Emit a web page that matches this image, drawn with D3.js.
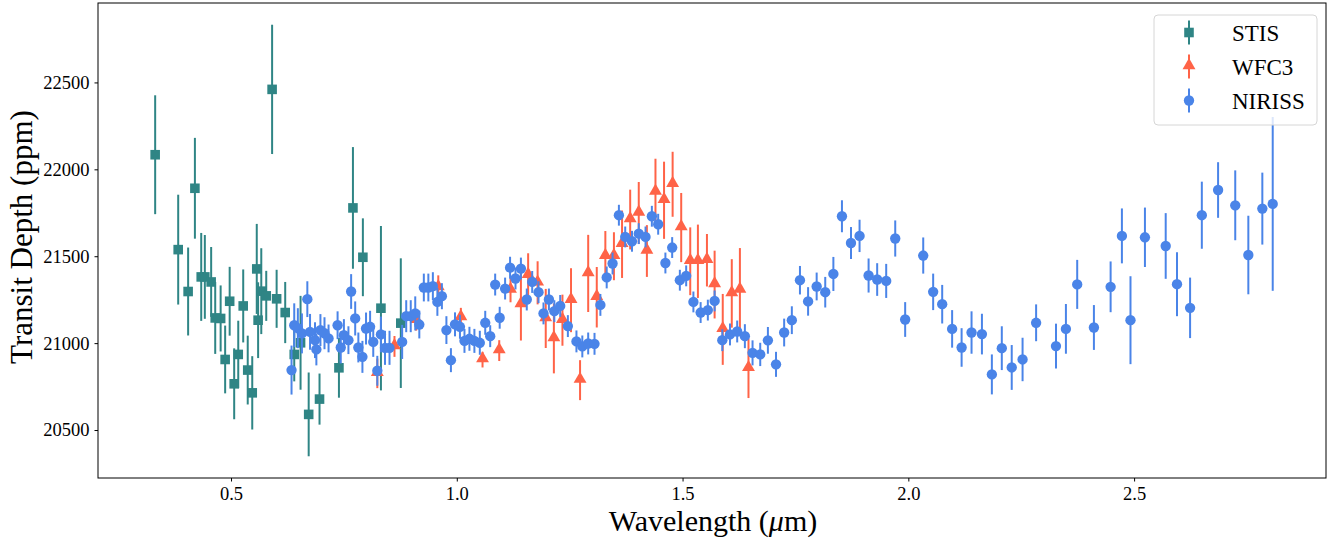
<!DOCTYPE html>
<html>
<head>
<meta charset="utf-8">
<script src="https://cdn.jsdelivr.net/npm/d3@7"></script>
<style>
  body { margin: 0; background: #fff; }
  svg text { font-family: "Liberation Serif", "DejaVu Serif", serif; fill: #000; }
</style>
</head>
<body>
<div id="plot"></div>
<script>
// values
var stisWave = [0.332, 0.383, 0.405, 0.420, 0.434, 0.442, 0.456, 0.465, 0.477, 0.487, 0.497, 0.507, 0.516, 0.527, 0.537, 0.547, 0.557, 0.560, 0.567, 0.578, 0.591, 0.601, 0.620, 0.640, 0.654, 0.672, 0.696, 0.739, 0.770, 0.792, 0.832, 0.876];
var stisDepth = [22084, 21538, 21297, 21891, 21381, 21381, 21352, 21145, 21142, 20906, 21241, 20766, 20935, 21214, 20845, 20714, 21427, 21132, 21299, 21272, 22460, 21255, 21176, 20935, 21002, 20590, 20678, 20858, 21778, 21494, 21201, 21115];
var stisErr = [342, 316, 253, 290, 253, 241, 201, 207, 190, 195, 198, 204, 194, 210, 198, 211, 259, 218, 247, 144, 372, 167, 176, 155, 270, 241, 147, 172, 350, 224, 473, 373];

var wfc3Wave = [0.824, 0.862, 0.910, 0.959, 1.009, 1.057, 1.094, 1.119, 1.142, 1.158, 1.179, 1.197, 1.215, 1.234, 1.253, 1.273, 1.291, 1.310, 1.329, 1.348, 1.366, 1.384, 1.403, 1.421, 1.440, 1.459, 1.478, 1.497, 1.517, 1.534, 1.554, 1.571, 1.589, 1.609, 1.627, 1.646];
var wfc3Depth = [20826, 20981, 21132, 21320, 21148, 20905, 20957, 21305, 21222, 21391, 21347, 21142, 21027, 21132, 21247, 20787, 21401, 21264, 21500, 21500, 21569, 21711, 21749, 21530, 21870, 21822, 21914, 21665, 21471, 21471, 21477, 21337, 21079, 21286, 21306, 20855];
var wfc3Err = [85, 60, 60, 70, 55, 45, 60, 70, 207, 126, 124, 170, 201, 147, 184, 115, 222, 174, 145, 138, 194, 172, 178, 149, 191, 222, 187, 199, 195, 211, 151, 195, 204, 197, 241, 171];

var nirissWave = [0.634, 0.640, 0.648, 0.657, 0.669, 0.675, 0.686, 0.689, 0.698, 0.707,
  0.716, 0.736, 0.743, 0.750, 0.760, 0.766, 0.775, 0.782, 0.791, 0.799,
  0.808, 0.815, 0.824, 0.832, 0.841, 0.851,
  0.879, 0.888, 0.898, 0.908, 0.917, 0.927, 0.937, 0.947, 0.957, 0.967,
  0.977, 0.987, 0.996, 1.007, 1.017, 1.028, 1.039, 1.051, 1.063, 1.074,
  1.085, 1.095, 1.107, 1.118, 1.130, 1.142,
  1.155, 1.167, 1.181, 1.192, 1.204, 1.216, 1.229, 1.246, 1.265, 1.278,
  1.291, 1.305, 1.318, 1.332, 1.345, 1.359, 1.373, 1.388, 1.403, 1.418,
  1.432, 1.446, 1.462, 1.477, 1.494, 1.508,
  1.524, 1.540, 1.556, 1.571, 1.588, 1.605, 1.621, 1.638, 1.655, 1.672,
  1.689, 1.707, 1.725, 1.742, 1.760, 1.778, 1.797, 1.816, 1.834, 1.853,
  1.873, 1.892, 1.912, 1.931, 1.951, 1.971,
  1.993, 2.033, 2.055, 2.075, 2.097, 2.118, 2.140, 2.163, 2.185, 2.207,
  2.229, 2.253, 2.283, 2.327, 2.349, 2.374, 2.411, 2.448, 2.473, 2.492,
  2.524, 2.570, 2.595, 2.624, 2.650, 2.686, 2.724, 2.753, 2.784, 2.807];
var nirissDepth = [20845, 21103, 21086, 21056, 21253, 21065, 21017, 20964, 21075, 21057,
  21027, 21103, 20975, 21046, 21017, 21297, 21142, 20975, 20921, 21084,
  21094, 21007, 20841, 21050, 20973, 20973,
  21007, 21155, 21155, 21171, 21107, 21320, 21320, 21328, 21237, 21270,
  21075, 20902, 21108, 21094, 21013, 21025, 21013, 21002, 21117, 21040,
  21337, 21146, 21314, 21434, 21372, 21429,
  21251, 21352, 21293, 21171, 21251, 21184, 21214, 21098, 21010, 20981,
  20998, 20996, 21220, 21378, 21458, 21736, 21611, 21586, 21630, 21611,
  21730, 21684, 21461, 21550, 21362, 21387,
  21237, 21176, 21190, 21243, 21017, 21050, 21067, 21040, 20944, 20935,
  21016, 20878, 21061, 21132, 21362, 21240, 21326, 21293, 21398, 21730,
  21576, 21617, 21389, 21366, 21358, 21602,
  21136, 21504, 21295, 21224, 21082, 20975, 21061, 21052, 20820, 20971,
  20860, 20906, 21117, 20983, 21082, 21338, 21090, 21324, 21617, 21132,
  21609, 21559, 21339, 21203, 21736, 21881, 21793, 21507, 21774, 21801];
var nirissErr = [141, 126, 115, 115, 103, 103, 103, 92, 92, 92,
  80, 80, 92, 92, 80, 100, 98, 86, 92, 92,
  92, 86, 86, 103, 98, 98,
  98, 92, 92, 98, 80, 80, 80, 80, 80, 75,
  80, 69, 69, 69, 69, 69, 69, 69, 69, 63,
  63, 63, 63, 63, 63, 63,
  63, 63, 63, 63, 63, 63, 63, 63, 63, 63,
  63, 63, 63, 63, 63, 60, 60, 60, 60, 60,
  60, 60, 60, 60, 60, 60,
  60, 60, 60, 60, 63, 63, 63, 69, 72, 67,
  77, 72, 80, 80, 82, 82, 80, 88, 98, 92,
  92, 93, 98, 94, 98, 104,
  100, 104, 105, 111, 108, 111, 122, 117, 115, 126,
  129, 125, 106, 129, 143, 141, 129, 146, 158, 253,
  171, 189, 184, 174, 193, 160, 201, 226, 207, 500];

var xTicks = [0.5, 1.0, 1.5, 2.0, 2.5];
var yTicks = [20500, 21000, 21500, 22000, 22500];
var seriesNames = ["STIS", "WFC3", "NIRISS"];

// set the dimensions and margins of the graph
var margin = {top: 3, right: 10, bottom: 63, left: 98},
    width = 1336 - margin.left - margin.right,
    height = 541 - margin.top - margin.bottom;

var svg = d3.select("#plot")
  .append("svg")
  .attr("width", 1336)
  .attr("height", 541)
  .append("g")
  .attr("transform", "translate(" + margin.left + "," + margin.top + ")");

var x = d3.scaleLinear().domain([0.2054, 2.925]).range([0, width]);
var y = d3.scaleLinear().domain([20224, 22957]).range([height, 0]);

var colors = {STIS: "#2f8585", WFC3: "#ff6347", NIRISS: "#4a84e8"};

// ---- axes ----
var xAxis = svg.append("g")
  .attr("transform", "translate(0," + height + ")")
  .call(d3.axisBottom(x).tickValues(xTicks).tickFormat(d3.format(".1f")).tickSize(3.5).tickSizeOuter(0).tickPadding(5));
var yAxis = svg.append("g")
  .call(d3.axisLeft(y).tickValues(yTicks).tickFormat(d3.format("d")).tickSize(3.5).tickSizeOuter(0).tickPadding(5));
[xAxis, yAxis].forEach(function(a) {
  a.select(".domain").remove();
  a.selectAll("line").attr("stroke", "#000").attr("stroke-width", 1);
  a.selectAll("text").style("font-size", "18.5px").style("font-family", "'Liberation Serif', serif");
});

// ---- series ----
function makeRows(w, d, e) {
  return w.map(function(v, i) { return {w: v, d: d[i], e: e[i]}; });
}

var sym = {
  STIS: d3.symbol().type(d3.symbolSquare).size(92),
  WFC3: d3.symbol().type(d3.symbolTriangle).size(72),
  NIRISS: d3.symbol().type(d3.symbolCircle).size(84)
};

function drawSeries(name, rows) {
  var g = svg.append("g");
  g.selectAll("line.err")
    .data(rows)
    .enter()
    .append("line")
    .attr("x1", function(d) { return x(d.w); })
    .attr("x2", function(d) { return x(d.w); })
    .attr("y1", function(d) { return y(d.d - d.e); })
    .attr("y2", function(d) { return y(d.d + d.e); })
    .attr("stroke", colors[name])
    .attr("stroke-width", 2);
  g.selectAll("path.mark")
    .data(rows)
    .enter()
    .append("path")
    .attr("d", sym[name])
    .attr("transform", function(d) { return "translate(" + x(d.w) + "," + (y(d.d) + (name == "WFC3" ? -1 : 0)) + ")"; })
    .attr("fill", colors[name]);
}

drawSeries("STIS", makeRows(stisWave, stisDepth, stisErr));
drawSeries("WFC3", makeRows(wfc3Wave, wfc3Depth, wfc3Err));
drawSeries("NIRISS", makeRows(nirissWave, nirissDepth, nirissErr));

// ---- frame ----
svg.append("rect")
  .attr("x", 0).attr("y", 0)
  .attr("width", width).attr("height", height)
  .attr("fill", "none")
  .attr("stroke", "#000")
  .attr("stroke-width", 1);

// ---- axis labels ----
var xl = svg.append("text")
  .attr("x", 713 - margin.left)
  .attr("y", 531 - margin.top)
  .attr("text-anchor", "middle")
  .style("font-size", "30px");
xl.append("tspan").text("Wavelength (");
xl.append("tspan").style("font-style", "italic").text("μ");
xl.append("tspan").text("m)");

svg.append("text")
  .attr("transform", "translate(" + (32 - margin.left) + "," + (237 - margin.top) + ") rotate(-90)")
  .attr("text-anchor", "middle")
  .style("font-size", "31px")
  .text("Transit Depth (ppm)");

// ---- legend ----
var lg = svg.append("g").attr("transform", "translate(" + (1154 - margin.left) + "," + (15 - margin.top) + ")");
lg.append("rect")
  .attr("width", 163).attr("height", 110)
  .attr("rx", 4)
  .attr("fill", "#fff").attr("fill-opacity", 0.8)
  .attr("stroke", "#d6d6d6").attr("stroke-width", 1);
seriesNames.forEach(function(name, i) {
  var cy = 17.5 + i * 34;
  lg.append("line")
    .attr("x1", 35).attr("x2", 35)
    .attr("y1", cy - 12).attr("y2", cy + 12)
    .attr("stroke", colors[name]).attr("stroke-width", 2);
  lg.append("path")
    .attr("d", sym[name])
    .attr("transform", "translate(35," + (cy + (name == "WFC3" ? -1 : 0)) + ")")
    .attr("fill", colors[name]);
  lg.append("text")
    .attr("x", 78).attr("y", cy)
    .attr("dy", "0.35em")
    .style("font-size", "23px")
    .text(name);
});
</script>
</body>
</html>
